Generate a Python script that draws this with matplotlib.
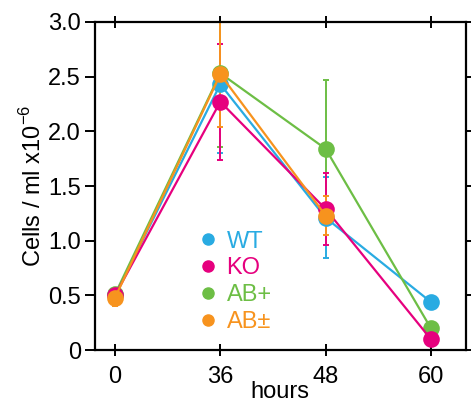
import matplotlib
matplotlib.use("Agg")
import matplotlib.pyplot as plt

plt.rcParams['font.family'] = ['Liberation Sans', 'DejaVu Sans']
plt.rcParams['mathtext.fontset'] = 'custom'
plt.rcParams['mathtext.rm'] = 'Liberation Sans'

# 시간 구간 (범주형 x축)
hours = ['0', '36', '48', '60']

# 그룹별 평균값 (Cells / ml x10^-6), None = 측정 없음
wt = [0.50, 2.43, 1.21, 0.44]
ko = [0.50, 2.27, 1.29, 0.10]
ab_plus = [0.51, 2.53, 1.84, 0.20]
ab_pm = [0.48, 2.52, 1.23, None]

# 오차 막대 (표준편차)
wt_err = [0.05, 0.63, 0.37, 0.02]
ko_err = [0.05, 0.53, 0.33, 0.02]
ab_plus_err = [0.05, 0.67, 0.63, 0.02]
ab_pm_err = [0.08, 0.48, 0.18, 0.0]

series = [
    ('WT', wt, wt_err, '#29ABE2'),
    ('AB+', ab_plus, ab_plus_err, '#6DBE45'),
    ('KO', ko, ko_err, '#E6007E'),
    ('AB±', ab_pm, ab_pm_err, '#F7931E'),
]
legend_order = ['WT', 'KO', 'AB+', 'AB±']

fig = plt.figure(figsize=(4.71, 4.12), dpi=100)
ax = fig.add_axes([0.2017, 0.150, 0.787, 0.797])

x = list(range(len(hours)))
handles = {}
for name, vals, errs, color in series:
    xs = [xi for xi, v in zip(x, vals) if v is not None]
    ys = [v for v in vals if v is not None]
    es = [e for e, v in zip(errs, vals) if v is not None]
    line, caps, bars = ax.errorbar(xs, ys, yerr=es, color=color, lw=1.6,
                                   elinewidth=1.4, capsize=2.5, capthick=1.4,
                                   marker='o', markersize=12, markeredgewidth=0)
    for c in caps:
        c.set_markeredgewidth(1.4)
    h, = ax.plot([], [], 'o', color=color, markersize=8)
    handles[name] = (h, color)

leg = ax.legend([handles[n][0] for n in legend_order], legend_order,
                loc='upper left', bbox_to_anchor=(0.24, 0.40), frameon=False,
                fontsize=17, handletextpad=0.3, labelspacing=0.2,
                handlelength=1.0, borderpad=0)
for t, n in zip(leg.get_texts(), legend_order):
    t.set_color(handles[n][1])

ax.set_xlim(-0.19, 3.33)
ax.set_ylim(0, 3.0)
ax.set_xticks(x)
ax.set_xticklabels(hours)
ax.set_yticks([0, 0.5, 1.0, 1.5, 2.0, 2.5, 3.0])
ax.set_yticklabels(['0', '0.5', '1.0', '1.5', '2.0', '2.5', '3.0'])

for s in ax.spines.values():
    s.set_linewidth(1.6)

ax.tick_params(axis='y', direction='out', length=7, width=1.4,
               labelsize=17, right=True, labelright=False, pad=3)
ax.tick_params(axis='x', direction='inout', length=9, width=1.4,
               labelsize=17, top=True, pad=7)

ax.set_ylabel('Cells / ml x10$^{-6}$', fontsize=17, labelpad=2)
ax.set_xlabel('hours', fontsize=17, labelpad=-5)

fig.savefig('out.png', dpi=100, facecolor='white')
